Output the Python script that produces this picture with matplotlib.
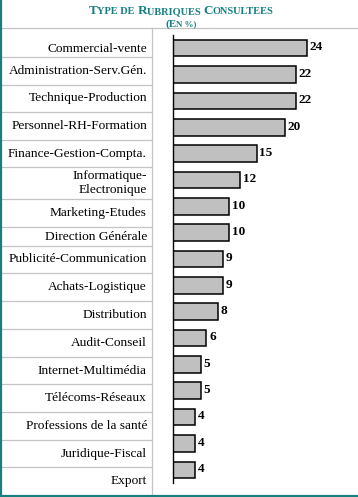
import matplotlib
matplotlib.use("Agg")
import matplotlib.pyplot as plt

# data
categories = ["Commercial-vente", "Administration-Serv.Gén.", "Technique-Production",
              "Personnel-RH-Formation", "Finance-Gestion-Compta.", "Informatique-\nElectronique",
              "Marketing-Etudes", "Direction Générale", "Publicité-Communication",
              "Achats-Logistique", "Distribution", "Audit-Conseil", "Internet-Multimédia",
              "Télécoms-Réseaux", "Professions de la santé", "Juridique-Fiscal", "Export"]
values = [24, 22, 22, 20, 15, 12, 10, 10, 9, 9, 8, 6, 5, 5, 4, 4, 4]
title_parts = [("T", 1), ("YPE DE ", 0), ("R", 1), ("UBRIQUES ", 0), ("C", 1), ("ONSULTEES", 0)]
subtitle_parts = [("(E", 1), ("N %)", 0)]

# layout of the html-like table (pixels from top)
row_lines = [28, 57, 85, 112, 140, 167, 199, 227, 246, 273, 301, 329, 357, 384, 412, 440, 467, 495]
W, H = 358, 497
teal = "#17807f"
grid = "#c4c4c4"
serif = ["Liberation Serif", "DejaVu Serif"]

fig = plt.figure(figsize=(W / 100, H / 100), dpi=100)
bg = fig.add_axes([0, 0, 1, 1])
bg.set_xlim(0, W)
bg.set_ylim(H, 0)
bg.axis("off")

# table lines
bg.plot([0, W], [row_lines[0], row_lines[0]], color=grid, lw=0.9)
for y in row_lines[1:-1]:
    bg.plot([0, 152], [y, y], color=grid, lw=0.9)
bg.plot([152, 152], [row_lines[0], row_lines[-1]], color=grid, lw=0.9)
bg.plot([1, 1], [0, H], color=teal, lw=1.6)
bg.plot([0, W], [495.5, 495.5], color=teal, lw=1.6)

# labels in the left column
for i, lab in enumerate(categories):
    yc = (row_lines[i] + row_lines[i + 1]) / 2
    if i == 0:
        yc += 6
    bg.text(147, yc, lab, ha="right", va="center", family=serif, fontsize=9.6,
            linespacing=1.2)


# small caps title, built piece by piece
def small_caps(parts, y, big, small):
    r = fig.canvas.get_renderer()
    objs = []
    for s, b in parts:
        t = bg.text(0, y, s, family=serif, fontsize=big if b else small,
                    fontweight="bold", color=teal, va="baseline", ha="left")
        objs.append(t)
    widths = [t.get_window_extent(r).width for t in objs]
    x = W / 2 - sum(widths) / 2 + 2
    for t, w in zip(objs, widths):
        t.set_x(x)
        x += w


small_caps(title_parts, 14, 9.5, 7.4)
small_caps(subtitle_parts, 26.5, 8, 6.4)

# bars
ax = fig.add_axes([173 / W, (H - 483) / H, 184 / W, 448 / H])
pos = list(range(len(values)))
ax.barh(pos, values, height=0.63, color="#c0c0c0", edgecolor="black", linewidth=1.1)
ax.set_ylim(len(values) - 0.5, -0.5)
ax.set_xlim(0, 33)
for s in ["top", "right", "bottom"]:
    ax.spines[s].set_visible(False)
ax.spines["left"].set_linewidth(1)
ax.set_xticks([])
ax.set_yticks([])
ax.patch.set_alpha(0)
for p, v in zip(pos, values):
    ax.annotate(str(v), (v, p), xytext=(2, 0.5), textcoords="offset points",
                va="center", ha="left", family=serif, fontsize=9.5, fontweight="bold")

fig.savefig("out.png", dpi=100)
